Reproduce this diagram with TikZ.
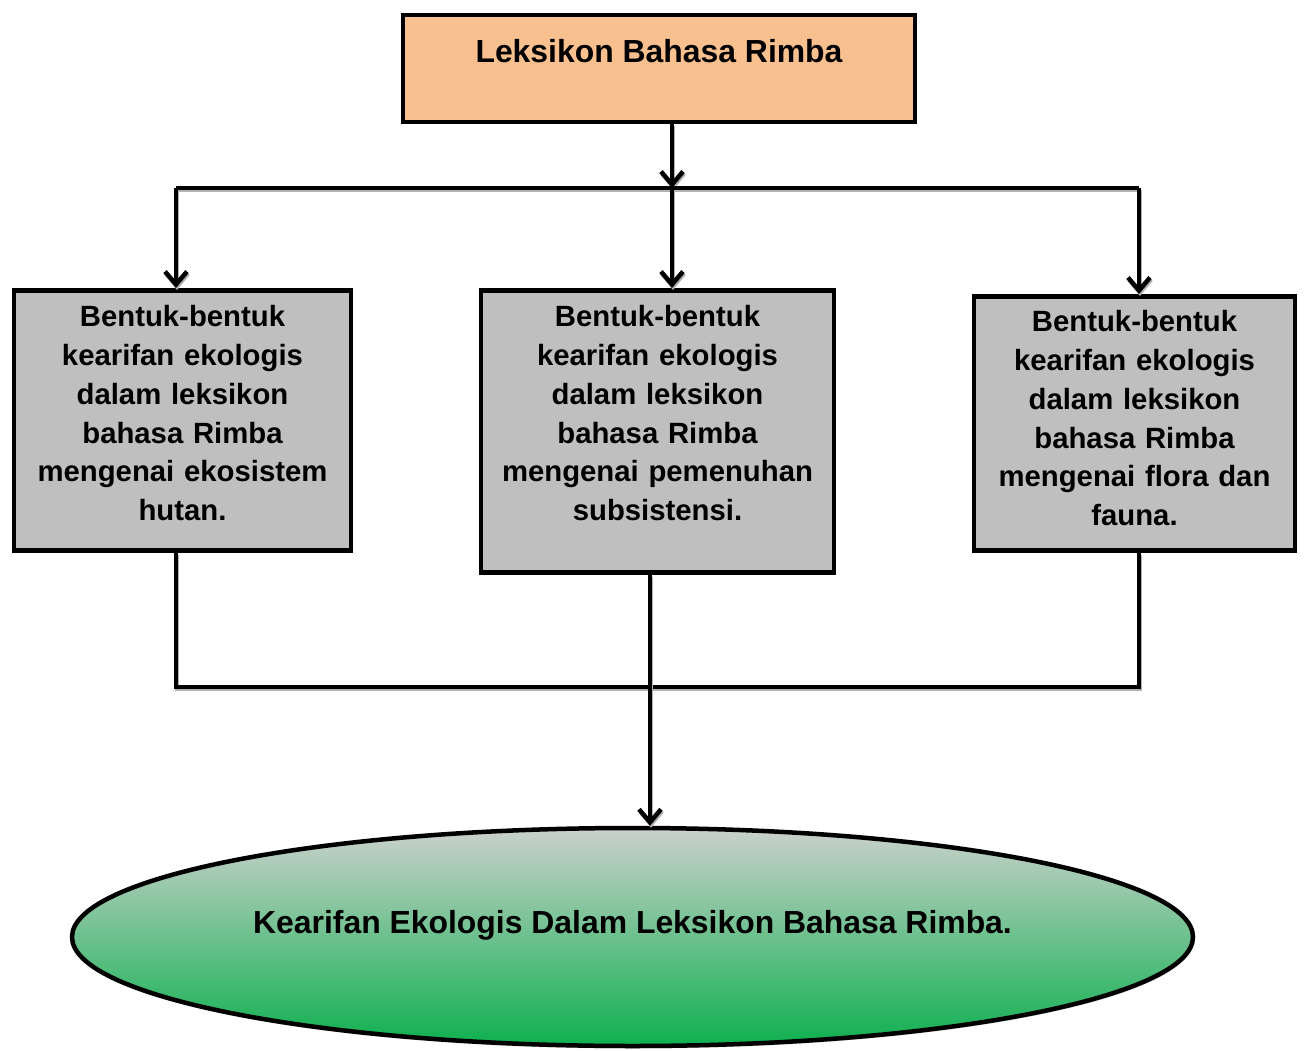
\documentclass[tikz,border=0pt]{standalone}
\usepackage{fontspec}
\setmainfont{Liberation Sans}
\usetikzlibrary{arrows.meta,shapes.geometric,shadows}

\definecolor{peach}{HTML}{F8BF8F}
\definecolor{boxgray}{HTML}{BFBFBF}
\definecolor{topgreen}{HTML}{CBD1CC}
\definecolor{botgreen}{HTML}{0EB04F}

\begin{document}
\begin{tikzpicture}[x=1pt,y=-1pt,>={Straight Barb[length=13pt,width=22pt]},
  line width=4.5pt,
  link/.style={preaction={draw=black!30,transform canvas={xshift=1pt,yshift=-2pt}}},
  top node/.style={rectangle,draw,fill=peach,inner sep=0pt,
    drop shadow={shadow xshift=1.5pt,shadow yshift=-2pt,fill=black!35},
    font=\bfseries\fontsize{31.9pt}{38pt}\selectfont},
  gray node/.style={rectangle,draw,fill=boxgray,inner sep=0pt,align=center,anchor=north,
    drop shadow={shadow xshift=1.5pt,shadow yshift=-2pt,fill=black!35},
    font=\bfseries\fontsize{29.3pt}{38.8pt}\selectfont},
  end node/.style={ellipse,draw,shading=axis,top color=topgreen,bottom color=botgreen,inner sep=0pt,
    drop shadow={shadow xshift=1pt,shadow yshift=-2.5pt,fill=black!35},
    font=\bfseries\fontsize{31.9pt}{38pt}\selectfont}]

 \useasboundingbox (0,0) rectangle (1304,1051);

 \node[top node,minimum width=512pt,text height=48pt,text depth=59pt] (top) at (659,15+53.5) {Leksikon Bahasa Rimba};

 \node[gray node,text width=337pt,text height=36.5pt,text depth=223.5pt] (left) at (182.5,288)
   {Bentuk-bentuk\\kearifan ekologis\\dalam leksikon\\bahasa Rimba\\mengenai ekosistem\\hutan.};
 \node[gray node,text width=353pt,text height=36.5pt,text depth=245.5pt] (mid) at (657.5,288)
   {Bentuk-bentuk\\kearifan ekologis\\dalam leksikon\\bahasa Rimba\\mengenai pemenuhan\\subsistensi.};
 \node[gray node,text width=321pt,text height=35.5pt,text depth=218.5pt] (right) at (1134.5,294)
   {Bentuk-bentuk\\kearifan ekologis\\dalam leksikon\\bahasa Rimba\\mengenai flora dan\\fauna.};

 \node[end node,minimum width=1121pt,minimum height=218pt,text height=22pt,text depth=30pt] (goal) at (632.5,937)
   {Kearifan Ekologis Dalam Leksikon Bahasa Rimba.};

 \coordinate (split) at (672,188);
 \coordinate (sl) at (176,188);
 \coordinate (sr) at (1139,188);
 \coordinate (jl) at (176,687);
 \coordinate (jr) at (1139,687);
 \coordinate (jm) at (650,687);

 \draw[link,->] (top.south -| split) -- (split);
 \draw[link] (sl) -- (sr);
 \draw[link,->] (sl) -- (sl |- left.north);
 \draw[link,->] (split) -- (split |- mid.north);
 \draw[link,->] (sr) -- (sr |- right.north);

 \draw[link] (left.south -| jl) -- (jl) -- (jr) -- (right.south -| jr);
 \draw[link,->] (mid.south -| jm) -- (jm |- goal.north);

\end{tikzpicture}
\end{document}
